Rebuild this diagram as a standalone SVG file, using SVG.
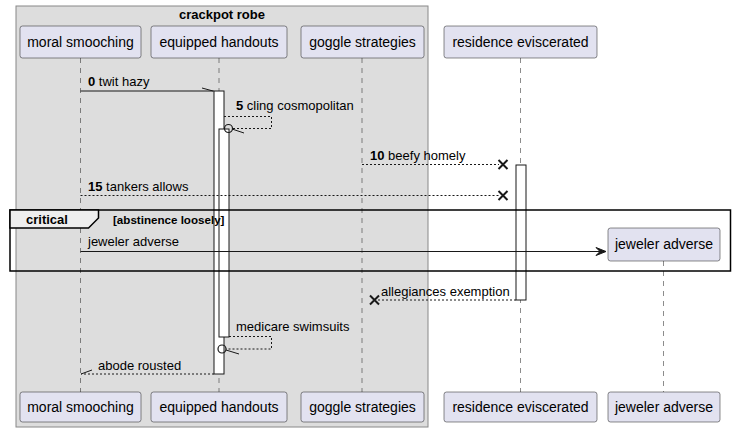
<svg xmlns="http://www.w3.org/2000/svg" width="735" height="432" viewBox="0 0 735 432">
<defs>
<style>
.t{font-family:"Liberation Sans",Arial,sans-serif;font-size:13px;fill:#000}
.b{font-weight:bold}
.p{fill:#E2E2F0;stroke:#181818;stroke-width:0.5}
.pt{font-family:"Liberation Sans",Arial,sans-serif;font-size:14px;fill:#000;text-anchor:middle}
.ll{stroke:#181818;stroke-width:0.5;stroke-dasharray:5,5;fill:none}
.act{fill:#FFFFFF;stroke:#181818;stroke-width:1}
.m{stroke:#181818;stroke-width:1;fill:none}
.d{stroke:#181818;stroke-width:1;fill:none;stroke-dasharray:2,2}
.x{stroke:#181818;stroke-width:2}
</style>
</defs>
<rect width="735" height="432" fill="#FFFFFF"/>
<g id="box-crackpot-robe">
<rect x="16" y="6" width="412" height="421" fill="#DDDDDD" stroke="#888888" stroke-width="1"/>
<text class="t b" x="222" y="19" text-anchor="middle">crackpot robe</text>
</g>
<g id="lifelines">
<line class="ll" x1="80.5" y1="58" x2="80.5" y2="392"/>
<line class="ll" x1="219" y1="58" x2="219" y2="392"/>
<line class="ll" x1="362" y1="58" x2="362" y2="392"/>
<line class="ll" x1="520.5" y1="58" x2="520.5" y2="392"/>
<line class="ll" x1="663.5" y1="261" x2="663.5" y2="392"/>
</g>
<g id="moral-smooching">
<rect class="p" x="20" y="26" width="121" height="32" rx="2.5"/>
<text class="pt" x="80.5" y="47">moral smooching</text>
<rect class="p" x="20" y="392" width="121" height="30" rx="2.5"/>
<text class="pt" x="80.5" y="412">moral smooching</text>
</g>
<g id="equipped-handouts">
<rect class="p" x="151" y="26" width="136" height="32" rx="2.5"/>
<text class="pt" x="219" y="47">equipped handouts</text>
<rect class="p" x="151" y="392" width="136" height="30" rx="2.5"/>
<text class="pt" x="219" y="412">equipped handouts</text>
</g>
<g id="goggle-strategies">
<rect class="p" x="301" y="26" width="123" height="32" rx="2.5"/>
<text class="pt" x="362.5" y="47">goggle strategies</text>
<rect class="p" x="301" y="392" width="123" height="30" rx="2.5"/>
<text class="pt" x="362.5" y="412">goggle strategies</text>
</g>
<g id="residence-eviscerated">
<rect class="p" x="444" y="26" width="153" height="32" rx="2.5"/>
<text class="pt" x="520.5" y="47">residence eviscerated</text>
<rect class="p" x="444" y="392" width="153" height="30" rx="2.5"/>
<text class="pt" x="520.5" y="412">residence eviscerated</text>
</g>
<g id="jeweler-adverse">
<rect class="p" x="608" y="228" width="112" height="33" rx="2.5"/>
<text class="pt" x="664" y="249">jeweler adverse</text>
<rect class="p" x="608" y="392" width="112" height="30" rx="2.5"/>
<text class="pt" x="664" y="412">jeweler adverse</text>
</g>
<g id="activations">
<rect class="act" x="214" y="91" width="10" height="283"/>
<rect class="act" x="219" y="129" width="10" height="208"/>
<rect class="act" x="516" y="165" width="10" height="135"/>
</g>
<g id="connectors">
<line class="m" x1="80.5" y1="91" x2="214" y2="91"/>
<line class="m" x1="202" y1="88" x2="213" y2="91"/>
<text class="t" x="88" y="86"><tspan class="b">0</tspan> twit hazy</text>

<polyline class="d" points="224,116.5 271.5,116.5 271.5,128.5 233,128.5"/>
<circle cx="228.5" cy="128.5" r="4" fill="none" stroke="#181818" stroke-width="1.2"/>
<line class="m" x1="232" y1="129" x2="244" y2="133"/>
<text class="t" x="236" y="110"><tspan class="b">5</tspan> cling cosmopolitan</text>

<line class="d" x1="362" y1="164.5" x2="499" y2="164.5"/>
<path class="x" d="M498.5,160 L507.5,169 M498.5,169 L507.5,160"/>
<text class="t" x="370" y="160"><tspan class="b">10</tspan> beefy homely</text>

<line class="d" x1="80.5" y1="195.5" x2="499" y2="195.5"/>
<path class="x" d="M498.5,191 L507.5,200 M498.5,200 L507.5,191"/>
<text class="t" x="88" y="191"><tspan class="b">15</tspan> tankers allows</text>

<line class="m" x1="80.5" y1="251.5" x2="604" y2="251.5"/>
<polygon points="596,247.5 606,251.5 596,255.5 600,251.5" fill="#181818" stroke="#181818" stroke-width="1"/>
<text class="t" x="88" y="246">jeweler adverse</text>

<line class="d" x1="516" y1="300" x2="378" y2="300"/>
<path class="x" d="M370,295.5 L379,304.5 M370,304.5 L379,295.5"/>
<text class="t" x="381" y="296">allegiances exemption</text>

<polyline class="d" points="229,336.5 271.5,336.5 271.5,349 226,349"/>
<circle cx="222" cy="349" r="4" fill="none" stroke="#181818" stroke-width="1.2"/>
<line class="m" x1="226" y1="350" x2="239" y2="354"/>
<text class="t" x="236" y="331">medicare swimsuits</text>

<line class="d" x1="214" y1="374" x2="81" y2="374"/>
<line class="m" x1="81" y1="374" x2="92" y2="370"/>
<text class="t" x="98" y="370">abode rousted</text>
</g>
<g id="critical-group">
<rect x="10" y="210" width="720.5" height="61" fill="none" stroke="#000000" stroke-width="1.5"/>
<path d="M10,210 L98.5,210 L98.5,218 L88.5,228 L10,228 Z" fill="#EEEEEE" stroke="#000000" stroke-width="1.5"/>
<text class="t b" x="26" y="224">critical</text>
<text class="t b" x="113" y="224" style="font-size:11.6px">[abstinence loosely]</text>
</g>
</svg>
